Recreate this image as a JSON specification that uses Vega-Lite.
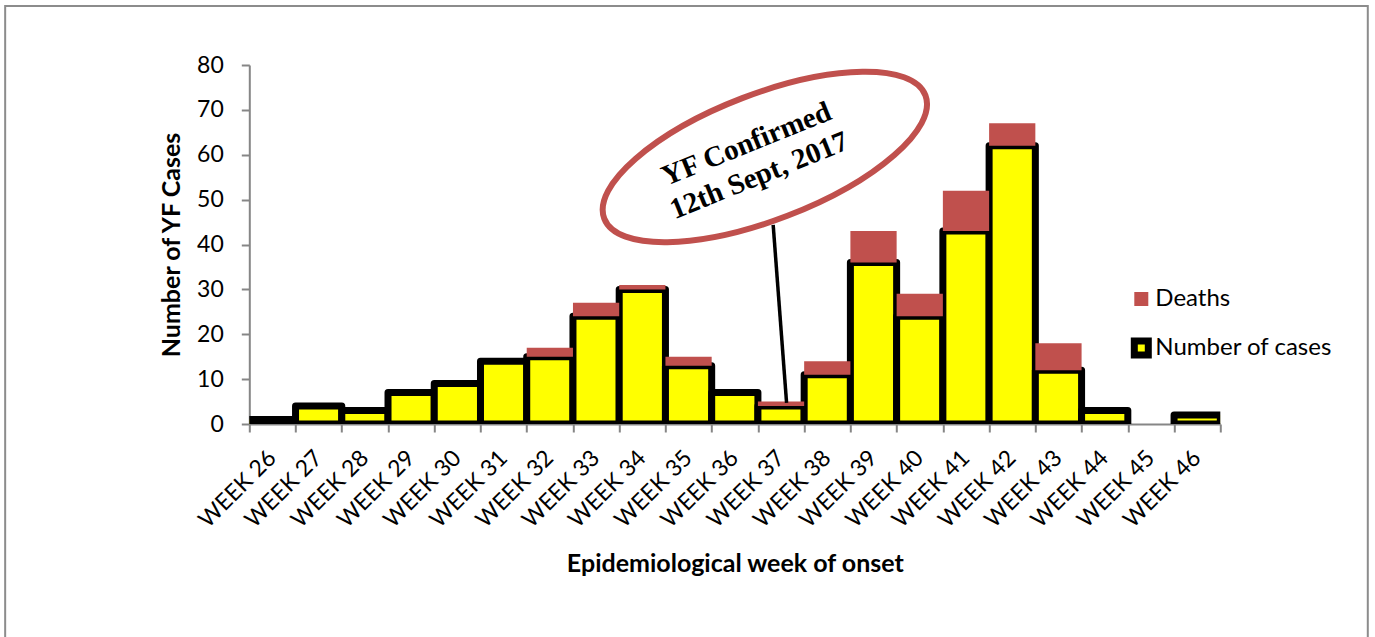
{
  "$schema": "https://vega.github.io/schema/vega-lite/v6.json",
  "width": 971,
  "height": 359,
  "autosize": {"type": "none"},
  "padding": {"left": 249.3, "top": 65, "right": 154.7, "bottom": 213},
  "background": "white",
  "config": {"view": {"stroke": null}, "font": "Lato"},
  "resolve": {"scale": {"x": "independent"}},
  "layer": [
    {
      "data": {"values": [
        {"week": "WEEK 26", "series": "Number of cases", "value": 1},
        {"week": "WEEK 27", "series": "Number of cases", "value": 4},
        {"week": "WEEK 28", "series": "Number of cases", "value": 3},
        {"week": "WEEK 29", "series": "Number of cases", "value": 7},
        {"week": "WEEK 30", "series": "Number of cases", "value": 9},
        {"week": "WEEK 31", "series": "Number of cases", "value": 14},
        {"week": "WEEK 32", "series": "Number of cases", "value": 15},
        {"week": "WEEK 33", "series": "Number of cases", "value": 24},
        {"week": "WEEK 34", "series": "Number of cases", "value": 30},
        {"week": "WEEK 35", "series": "Number of cases", "value": 13},
        {"week": "WEEK 36", "series": "Number of cases", "value": 7},
        {"week": "WEEK 37", "series": "Number of cases", "value": 4},
        {"week": "WEEK 38", "series": "Number of cases", "value": 11},
        {"week": "WEEK 39", "series": "Number of cases", "value": 36},
        {"week": "WEEK 40", "series": "Number of cases", "value": 24},
        {"week": "WEEK 41", "series": "Number of cases", "value": 43},
        {"week": "WEEK 42", "series": "Number of cases", "value": 62},
        {"week": "WEEK 43", "series": "Number of cases", "value": 12},
        {"week": "WEEK 44", "series": "Number of cases", "value": 3},
        {"week": "WEEK 46", "series": "Number of cases", "value": 2},
        {"week": "WEEK 32", "series": "Deaths", "value": 2},
        {"week": "WEEK 33", "series": "Deaths", "value": 3},
        {"week": "WEEK 34", "series": "Deaths", "value": 1},
        {"week": "WEEK 35", "series": "Deaths", "value": 2},
        {"week": "WEEK 37", "series": "Deaths", "value": 1},
        {"week": "WEEK 38", "series": "Deaths", "value": 3},
        {"week": "WEEK 39", "series": "Deaths", "value": 7},
        {"week": "WEEK 40", "series": "Deaths", "value": 5},
        {"week": "WEEK 41", "series": "Deaths", "value": 9},
        {"week": "WEEK 42", "series": "Deaths", "value": 5},
        {"week": "WEEK 43", "series": "Deaths", "value": 6}
      ]},
      "mark": {"type": "bar", "clip": true, "strokeWidth": 7, "strokeJoin": "round"},
      "encoding": {
        "x": {
          "field": "week", "type": "nominal",
          "scale": {"domain": ["WEEK 26","WEEK 27","WEEK 28","WEEK 29","WEEK 30","WEEK 31","WEEK 32","WEEK 33","WEEK 34","WEEK 35","WEEK 36","WEEK 37","WEEK 38","WEEK 39","WEEK 40","WEEK 41","WEEK 42","WEEK 43","WEEK 44","WEEK 45","WEEK 46"], "paddingInner": 0, "paddingOuter": 0},
          "axis": {
            "orient": "bottom", "ticks": false, "domain": false, "grid": false,
            "labelAngle": -45, "labelAlign": "right", "labelBaseline": "middle",
            "labelFont": "Lato", "labelFontSize": 23, "labelColor": "black",
            "labelPadding": 30, "labelOverlap": false,
            "title": "Epidemiological week of onset", "titleFont": "Lato", "titleFontSize": 25,
            "titleFontWeight": "bold", "titleColor": "black", "titlePadding": 20
          }
        },
        "y": {
          "field": "value", "type": "quantitative", "stack": "zero",
          "scale": {"domain": [0, 80], "nice": false},
          "axis": {
            "values": [0,10,20,30,40,50,60,70,80], "grid": false,
            "domainColor": "#868686", "domainWidth": 2, "tickColor": "#868686", "tickWidth": 2, "tickSize": 8,
            "labelPadding": 18, "labelFont": "Lato", "labelFontSize": 23, "labelColor": "black",
            "title": "Number of YF Cases", "titleFont": "Lato", "titleFontSize": 25, "titleFontWeight": "bold",
            "titleColor": "black", "titlePadding": 12
          }
        },
        "order": {"field": "series", "sort": "descending"},
        "fill": {
          "field": "series", "type": "nominal",
          "scale": {"domain": ["Deaths", "Number of cases"], "range": ["#C0504D", "#FFFF00"]},
          "legend": {"orient": "none", "legendX": 880, "legendY": 222, "title": null, "padding": 0, "symbolType": "square", "symbolSize": 196, "symbolStrokeWidth": 7, "labelFont": "Lato", "labelFontSize": 24, "labelColor": "black", "labelOffset": 2, "labelLimit": 0, "rowPadding": 7}
        },
        "stroke": {
          "field": "series", "type": "nominal",
          "scale": {"domain": ["Deaths", "Number of cases"], "range": ["transparent", "#000000"]},
          "legend": {"orient": "none", "legendX": 880, "legendY": 222, "title": null, "padding": 0, "symbolType": "square", "symbolSize": 196, "symbolStrokeWidth": 7, "labelFont": "Lato", "labelFontSize": 24, "labelColor": "black", "labelOffset": 2, "labelLimit": 0, "rowPadding": 7}
        }
      }
    },
    {
      "data": {"values": [{}]},
      "layer": [
        {
          "mark": {"type": "rule", "color": "black", "strokeWidth": 3.5},
          "encoding": {
            "x": {"datum": 36.83, "type": "quantitative", "scale": {"domain": [25.5, 46.5], "nice": false, "zero": false},
              "axis": {"orient": "bottom", "values": [25.5,26.5,27.5,28.5,29.5,30.5,31.5,32.5,33.5,34.5,35.5,36.5,37.5,38.5,39.5,40.5,41.5,42.5,43.5,44.5,45.5,46.5],
                "labels": false, "ticks": true, "tickSize": 8, "tickColor": "#868686", "tickWidth": 2,
                "domain": true, "domainColor": "#868686", "domainWidth": 2, "grid": false, "title": null}},
            "x2": {"datum": 37.12},
            "y": {"datum": 44.35, "type": "quantitative", "scale": {"domain": [0, 80], "nice": false}},
            "y2": {"datum": 4.7}
          }
        },
        {
          "mark": {"type": "point", "shape": "M1.6058,-0.6164C1.7305,-0.2915,1.1127,0.2478,0.2258,0.5882C-0.6611,0.9286,-1.4811,0.9413,-1.6058,0.6164C-1.7305,0.2915,-1.1127,-0.2478,-0.2258,-0.5882C0.6611,-0.9286,1.4811,-0.9413,1.6058,-0.6164Z", "size": 40000, "filled": false, "stroke": "#C0504D", "strokeWidth": 6, "opacity": 1},
          "encoding": {
            "x": {"datum": 36.65, "type": "quantitative", "scale": {"domain": [25.5, 46.5], "nice": false, "zero": false}},
            "y": {"datum": 59.5, "type": "quantitative", "scale": {"domain": [0, 80], "nice": false}}
          }
        },
        {
          "mark": {"type": "text", "text": ["YF Confirmed", "12th Sept, 2017"], "font": "Liberation Serif", "fontSize": 29, "fontWeight": "bold", "angle": 338, "align": "center", "baseline": "middle", "lineHeight": 34, "color": "black"},
          "encoding": {
            "x": {"datum": 36.25, "type": "quantitative", "scale": {"domain": [25.5, 46.5], "nice": false, "zero": false}},
            "y": {"datum": 62.4, "type": "quantitative", "scale": {"domain": [0, 80], "nice": false}}
          }
        },
        {
          "mark": {"type": "rect", "fillOpacity": 0, "stroke": "#8c8c8c", "strokeWidth": 2, "clip": false},
          "encoding": {
            "x": {"datum": 20.22, "type": "quantitative", "scale": {"domain": [25.5, 46.5], "nice": false, "zero": false}},
            "x2": {"datum": 49.69},
            "y": {"datum": 93.15, "type": "quantitative", "scale": {"domain": [0, 80], "nice": false}},
            "y2": {"datum": -60}
          }
        }
      ]
    }
  ]
}
